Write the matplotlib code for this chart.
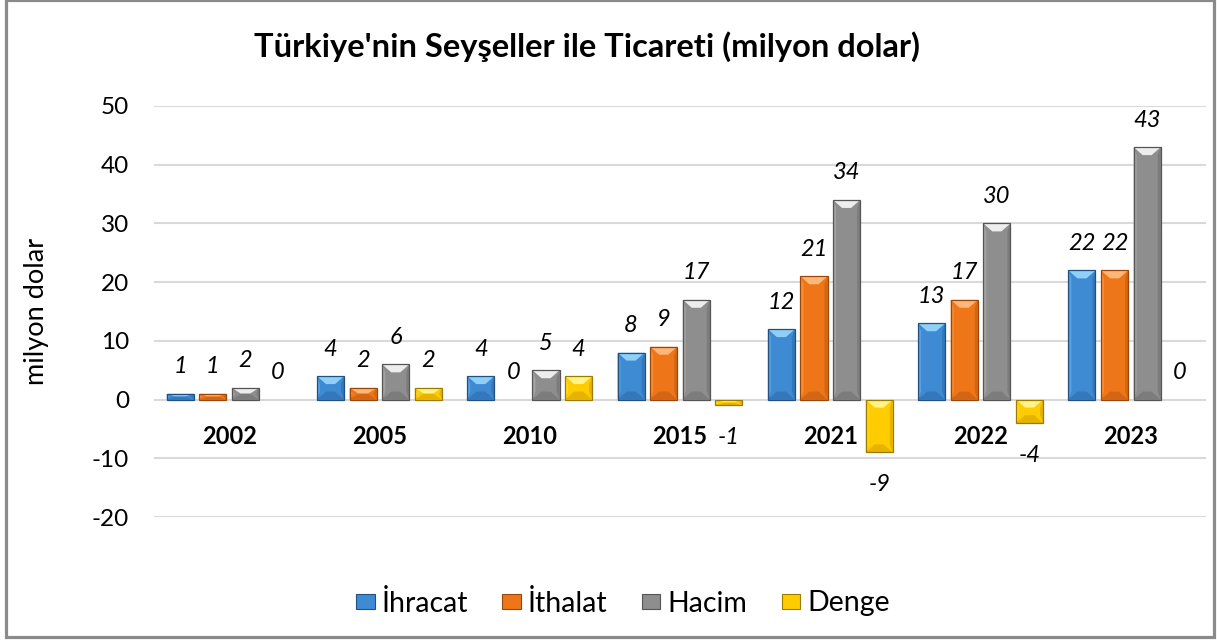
import matplotlib
matplotlib.use("Agg")
import matplotlib.pyplot as plt
from matplotlib.patches import Polygon, Rectangle, Patch
import numpy as np

plt.rcParams['font.family'] = ['Lato', 'DejaVu Sans']

title = "Türkiye'nin Seyşeller ile Ticareti (milyon dolar)"
ylabel = "milyon dolar"
categories = ["2002", "2005", "2010", "2015", "2021", "2022", "2023"]
series_names = ["İhracat", "İthalat", "Hacim", "Denge"]
ihracat = [1, 4, 4, 8, 12, 13, 22]
ithalat = [1, 2, 0, 9, 21, 17, 22]
hacim = [2, 6, 5, 17, 34, 30, 43]
denge = [0, 2, 4, -1, -9, -4, 0]
yticks = [-20, -10, 0, 10, 20, 30, 40, 50]

series = [ihracat, ithalat, hacim, denge]
face = ['#3F8BD3', '#EE7618', '#8E8E8E', '#FFCC00']
light = ['#8FD0F8', '#FFB777', '#EDEDED', '#FFF38A']
dark = ['#23507E', '#9A470C', '#555555', '#9C7C00']
mid_l = ['#55A2E4', '#F88C33', '#A2A2A2', '#FFD91E']
mid_d = ['#3477BA', '#D36615', '#7C7C7C', '#E6B400']

W, H = 1217, 643
fig = plt.figure(figsize=(W / 100, H / 100), dpi=100)
ax_left, ax_right = 154 / W, 1206 / W
ax_bot, ax_top = 1 - 517 / H, 1 - 106 / H
ax = fig.add_axes([ax_left, ax_bot, ax_right - ax_left, ax_top - ax_bot])

n = len(categories)
ax.set_xlim(-0.5, n - 0.5)
ax.set_ylim(-20, 50)
ax.set_yticks(yticks)
ax.set_yticklabels([str(t) for t in yticks], fontsize=17.5)
ax.tick_params(axis='y', length=0, pad=18)
ax.set_xticks([])
for s in ax.spines.values():
    s.set_visible(False)
ax.grid(axis='y', color='#d9d9d9', linewidth=1.5)
ax.set_axisbelow(True)

# pixel -> data scales
sx = n / ((ax_right - ax_left) * W)
sy = 70 / ((ax_top - ax_bot) * H)

step = 0.217
width = 0.18
x = np.arange(n)
for k, vals in enumerate(series):
    offs = (k - 1.5) * step
    bars = ax.bar(x + offs, vals, width, color=face[k], linewidth=0, zorder=3)
    for p, v in zip(bars.patches, vals):
        x0 = p.get_x(); x1 = x0 + p.get_width()
        y0 = p.get_y(); h = p.get_height()
        ylo, yhi = min(y0, y0 + h), max(y0, y0 + h)
        if yhi - ylo > 0:
            bx = 9 * sx
            by = min(8 * sy, (yhi - ylo) / 2)
            sbx = 3 * sx
            polys = [
                ([(x0, ylo), (x0 + sbx, ylo + by), (x0 + sbx, yhi - by), (x0, yhi)], mid_l[k]),
                ([(x1, ylo), (x1 - sbx, ylo + by), (x1 - sbx, yhi - by), (x1, yhi)], mid_d[k]),
                ([(x0, yhi), (x1, yhi), (x1 - bx, yhi - by), (x0 + bx, yhi - by)], light[k]),
                ([(x0, ylo), (x1, ylo), (x1 - bx, ylo + by), (x0 + bx, ylo + by)], mid_d[k]),
            ]
            for pts, c in polys:
                ax.add_patch(Polygon(pts, closed=True, facecolor=c, edgecolor='none', zorder=4))
            ax.add_patch(Rectangle((x0, ylo), x1 - x0, yhi - ylo, fill=False,
                                   edgecolor=dark[k], linewidth=0.9, zorder=5))
        off = 27 if v >= 0 else -32
        ax.annotate(str(v), (p.get_x() + p.get_width() / 2, v), xytext=(0, off),
                    textcoords='offset pixels', ha='center', va='center',
                    fontsize=17, style='italic', zorder=6)

for i, c in enumerate(categories):
    ax.annotate(c, (i, 0), xytext=(0, -37), textcoords='offset pixels',
                ha='center', va='center', fontsize=17, fontweight='bold', zorder=6)

fig.text(587 / W, 1 - 47 / H, title, ha='center', va='center', fontsize=23.5, fontweight='bold')
fig.text(37 / W, 1 - 311 / H, ylabel, ha='center', va='center', rotation=90, fontsize=19.5)

handles = [Patch(facecolor=face[k], edgecolor=dark[k], linewidth=0.8) for k in range(4)]
fig.legend(handles, series_names, loc='center', bbox_to_anchor=(623 / W, 1 - 603 / H),
           ncol=4, frameon=False, fontsize=20.5, handlelength=0.65, handleheight=0.45,
           handletextpad=0.25, columnspacing=1.2)

fig.patches.append(Rectangle((6 / W, 6 / H), 1208 / W, 1 - 6 / H, transform=fig.transFigure,
                             fill=False, edgecolor='#8a8a8a', linewidth=2.3))

fig.savefig("out.png", dpi=100)
